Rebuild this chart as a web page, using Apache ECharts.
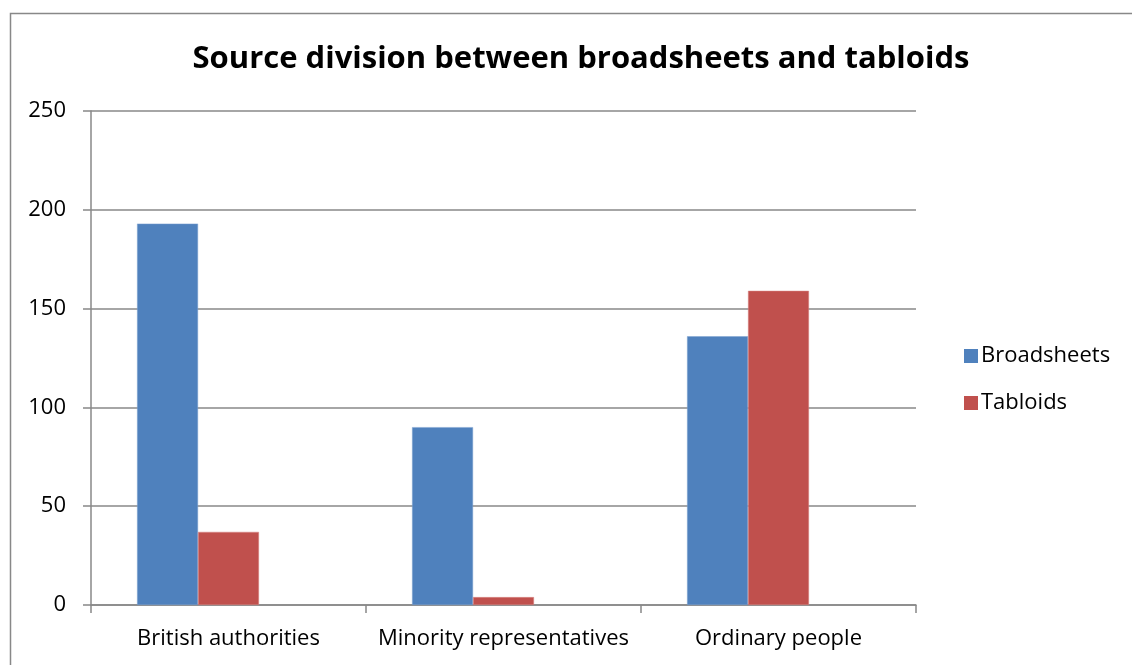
<!DOCTYPE html>
<html><head><meta charset="utf-8">
<script src="https://cdn.jsdelivr.net/npm/echarts@6/dist/echarts.min.js"></script>
<style>html,body{margin:0;padding:0;background:#fff}#c{width:1132px;height:665px}</style>
</head><body><div id="c"></div>
<script>
const categories = ['British authorities', 'Minority representatives', 'Ordinary people'];
const broadsheets = [193, 90, 136];
const tabloids = [37, 4, 159];
const yTicks = [0, 50, 100, 150, 200, 250];

const chart = echarts.init(document.getElementById('c'));
const font = '"Open Sans", "Liberation Sans", sans-serif';
chart.setOption({
  animation: false,
  backgroundColor: '#fff',
  title: {
    text: 'Source division between broadsheets and tabloids',
    left: 576, top: 39, textAlign: 'center',
    textStyle: { fontFamily: font, fontWeight: 'bold', fontSize: 31, color: '#000' }
  },
  graphic: [{
    type: 'rect', left: 8, top: 11,
    shape: { width: 1140, height: 670 },
    style: { fill: 'none', stroke: '#888', lineWidth: 1.5 }, silent: true, z: -1
  }],
  legend: {
    data: ['Broadsheets', 'Tabloids'],
    orient: 'vertical', left: 959, top: 340,
    itemWidth: 14, itemHeight: 14, itemGap: 25,
    icon: 'rect',
    itemStyle: { borderWidth: 0 },
    textStyle: { fontFamily: font, fontSize: 22, color: '#000', padding: [0, 0, 0, -2] }
  },
  grid: { left: 91, top: 111, width: 825, height: 494, containLabel: false },
  xAxis: {
    type: 'category', data: categories,
    axisLine: { lineStyle: { color: '#888', width: 1.5 } },
    axisTick: { show: true, length: 8, alignWithLabel: false, lineStyle: { color: '#888', width: 1.5 } },
    axisLabel: { fontFamily: font, fontSize: 22, color: '#000', margin: 23, interval: 0 }
  },
  yAxis: {
    type: 'value', min: 0, max: 250, interval: 50,
    axisLine: { show: true, lineStyle: { color: '#888', width: 1.5 } },
    axisTick: { show: true, length: 8, inside: false, lineStyle: { color: '#888', width: 1.5 } },
    splitLine: { lineStyle: { color: '#888', width: 1.5 } },
    axisLabel: { fontFamily: font, fontSize: 22, color: '#000', margin: 25,
      formatter: v => yTicks.includes(v) ? String(v) : '' }
  },
  series: [
    { name: 'Broadsheets', type: 'bar', data: broadsheets, barGap: '0%', barCategoryGap: '33.5%',
      itemStyle: { color: '#4F81BD', borderColor: '#7fa3d0', borderWidth: 0.5 } },
    { name: 'Tabloids', type: 'bar', data: tabloids, barGap: '0%', barCategoryGap: '33.5%',
      itemStyle: { color: '#C0504D', borderColor: '#d88886', borderWidth: 0.5 } },
    { name: 'spacer', type: 'bar', data: [null, null, null], barGap: '0%', barCategoryGap: '33.5%' }
  ]
});
</script></body></html>
